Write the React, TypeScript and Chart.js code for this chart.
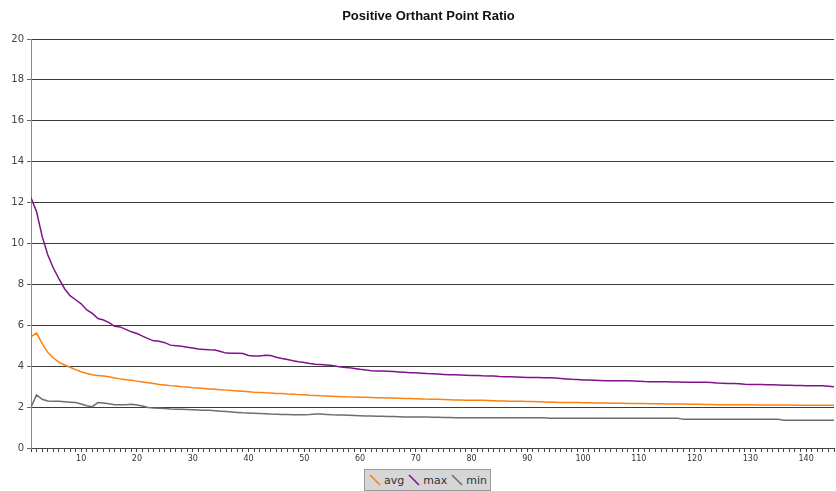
import React, { useEffect, useRef } from "react";
import { Chart, registerables } from "chart.js";

Chart.register(...registerables);

const TITLE = "Positive Orthant Point Ratio";
const SERIES_NAMES = ["avg", "max", "min"];
const SERIES_COLORS = ["#ff7f0e", "#80128c", "#6e6e6e"];
const Y_TICKS = [0, 2, 4, 6, 8, 10, 12, 14, 16, 18, 20];

// Iteration index 1..145
const iterations: number[] = Array.from({ length: 145 }, (_, i) => i + 1);

const avgValues: number[] = [
  5.45, 5.62, 5.1, 4.68, 4.4, 4.2, 4.06, 3.95, 3.83, 3.73,
  3.64, 3.58, 3.55, 3.52, 3.48, 3.42, 3.38, 3.34, 3.31, 3.27,
  3.23, 3.19, 3.15, 3.11, 3.08, 3.05, 3.03, 3.0, 2.98, 2.95,
  2.93, 2.91, 2.89, 2.87, 2.85, 2.83, 2.81, 2.79, 2.77, 2.75,
  2.73, 2.72, 2.7, 2.69, 2.67, 2.66, 2.64, 2.63, 2.61, 2.6,
  2.58, 2.57, 2.55, 2.54, 2.53, 2.52, 2.51, 2.5, 2.49, 2.48,
  2.48, 2.47, 2.46, 2.46, 2.45, 2.44, 2.43, 2.42, 2.42, 2.41,
  2.4, 2.39, 2.38, 2.38, 2.37, 2.36, 2.35, 2.35, 2.34, 2.34,
  2.33, 2.33, 2.32, 2.31, 2.3, 2.3, 2.29, 2.28, 2.28, 2.27,
  2.27, 2.26, 2.25, 2.24, 2.24, 2.23, 2.23, 2.22, 2.22, 2.21,
  2.21, 2.2, 2.2, 2.2, 2.19, 2.19, 2.19, 2.18, 2.18, 2.17,
  2.17, 2.16, 2.16, 2.16, 2.15, 2.15, 2.15, 2.15, 2.14, 2.14,
  2.14, 2.13, 2.13, 2.12, 2.12, 2.12, 2.11, 2.11, 2.11, 2.11,
  2.1, 2.1, 2.1, 2.1, 2.1, 2.1, 2.1, 2.09, 2.09, 2.09,
  2.09, 2.09, 2.09, 2.09, 2.09,
];

const maxValues: number[] = [
  12.24, 11.55, 10.35, 9.45, 8.8, 8.28, 7.8, 7.45, 7.25, 7.05,
  6.75, 6.58, 6.33, 6.26, 6.13, 5.95, 5.92, 5.8, 5.68, 5.6,
  5.47, 5.35, 5.24, 5.22, 5.15, 5.03, 5.0, 4.97, 4.93, 4.89,
  4.84, 4.82, 4.8, 4.79, 4.72, 4.64, 4.63, 4.63, 4.62, 4.52,
  4.5, 4.5, 4.53, 4.52, 4.44, 4.38, 4.33, 4.27, 4.22, 4.18,
  4.13, 4.1, 4.08, 4.06, 4.04, 3.99, 3.95, 3.93, 3.89, 3.85,
  3.82, 3.78, 3.77, 3.76, 3.75, 3.74, 3.72, 3.7, 3.68, 3.68,
  3.66, 3.64, 3.63, 3.62, 3.6, 3.58, 3.58, 3.57, 3.56, 3.55,
  3.55, 3.53, 3.52, 3.52, 3.5, 3.49, 3.48, 3.47, 3.46, 3.45,
  3.45, 3.45, 3.44, 3.43, 3.42, 3.4, 3.38, 3.36, 3.35, 3.33,
  3.32, 3.31, 3.3, 3.29, 3.29, 3.29, 3.29, 3.29, 3.28, 3.27,
  3.25, 3.24, 3.24, 3.24, 3.24, 3.23, 3.23, 3.22, 3.22, 3.22,
  3.21, 3.21, 3.2, 3.18, 3.17, 3.16, 3.15, 3.14, 3.12, 3.11,
  3.11, 3.1, 3.09, 3.09, 3.08, 3.07, 3.07, 3.06, 3.06, 3.05,
  3.05, 3.05, 3.04, 3.02, 3.0,
];

const minValues: number[] = [
  2.0, 2.6, 2.38, 2.3, 2.28, 2.28, 2.26, 2.24, 2.22, 2.15,
  2.07, 2.02, 2.22, 2.2, 2.16, 2.12, 2.11, 2.11, 2.14, 2.1,
  2.05, 1.98, 1.95, 1.94, 1.93, 1.91, 1.9, 1.89, 1.88, 1.87,
  1.86, 1.85, 1.84, 1.82, 1.8, 1.78, 1.76, 1.74, 1.72, 1.71,
  1.7, 1.69, 1.68, 1.66, 1.65, 1.64, 1.64, 1.63, 1.63, 1.63,
  1.64, 1.66, 1.66, 1.64, 1.62, 1.61, 1.61, 1.6, 1.59, 1.58,
  1.57, 1.56, 1.55, 1.55, 1.54, 1.54, 1.53, 1.52, 1.52, 1.51,
  1.51, 1.51, 1.5, 1.5, 1.49, 1.49, 1.48, 1.48, 1.48, 1.48,
  1.48, 1.48, 1.48, 1.48, 1.48, 1.48, 1.48, 1.48, 1.48, 1.48,
  1.48, 1.48, 1.48, 1.46, 1.45, 1.45, 1.45, 1.45, 1.45, 1.45,
  1.45, 1.45, 1.45, 1.45, 1.45, 1.45, 1.45, 1.45, 1.45, 1.45,
  1.45, 1.45, 1.45, 1.45, 1.45, 1.45, 1.45, 1.4, 1.4, 1.4,
  1.4, 1.4, 1.4, 1.4, 1.4, 1.4, 1.4, 1.4, 1.4, 1.4,
  1.4, 1.4, 1.4, 1.4, 1.4, 1.36, 1.36, 1.36, 1.36, 1.36,
  1.36, 1.36, 1.36, 1.36, 1.36,
];

const FONT = "'DejaVu Sans', Verdana, sans-serif";
const TITLE_FONT = "'Liberation Sans', Arial, sans-serif";

// Title drawn above the plot area
const titlePlugin = {
  id: "plotTitle",
  afterDraw(chart: Chart) {
    const { ctx, chartArea } = chart;
    ctx.save();
    ctx.font = `bold 13px ${TITLE_FONT}`;
    ctx.fillStyle = "#111";
    ctx.textAlign = "center";
    ctx.textBaseline = "alphabetic";
    ctx.fillText(TITLE, (chartArea.left + chartArea.right) / 2 - 4, 20);
    ctx.restore();
  },
};

export default function App() {
  const canvasRef = useRef<HTMLCanvasElement | null>(null);

  useEffect(() => {
    const canvas = canvasRef.current;
    if (!canvas) return;
    const sets = [avgValues, maxValues, minValues];
    const chart = new Chart(canvas, {
      type: "line",
      data: {
        datasets: sets.map((vals, k) => ({
          label: SERIES_NAMES[k],
          data: vals.map((v, i) => ({ x: iterations[i], y: v })),
          borderColor: SERIES_COLORS[k],
          borderWidth: 1.5,
          pointRadius: 0,
          tension: 0,
          fill: false,
        })),
      },
      options: {
        animation: false,
        responsive: false,
        devicePixelRatio: 1,
        layout: { padding: { top: 39, right: 0, left: 0, bottom: 0 } },
        plugins: {
          legend: { display: false },
          title: { display: false },
          tooltip: { enabled: false },
        },
        scales: {
          x: {
            type: "linear",
            min: 1,
            max: 145,
            afterFit(scale: any) {
              scale.height = 43;
            },
            border: { display: true, color: "#444", width: 1 },
            grid: {
              drawOnChartArea: false,
              drawTicks: true,
              tickLength: 4,
              tickColor: "#444",
            },
            ticks: {
              stepSize: 1,
              autoSkip: false,
              maxRotation: 0,
              minRotation: 0,
              padding: 2,
              color: "#333",
              font: { family: FONT, size: 8 },
              callback: (v: any) => (Number(v) % 10 === 0 ? String(v) : ""),
            },
          },
          y: {
            min: 0,
            max: 20,
            afterFit(scale: any) {
              scale.width = 31;
            },
            afterBuildTicks(scale: any) {
              scale.ticks = Y_TICKS.map((v) => ({ value: v }));
            },
            border: { display: true, color: "#8a8a8a", width: 1 },
            grid: {
              color: "#3c3c3c",
              lineWidth: 1,
              drawTicks: true,
              tickLength: 4,
              tickColor: "#666",
            },
            ticks: {
              padding: 3,
              color: "#444",
              font: { family: FONT, size: 10 },
            },
          },
        },
      },
      plugins: [titlePlugin],
    });
    return () => chart.destroy();
  }, []);

  return (
    <div
      style={{
        position: "fixed",
        left: 0,
        top: 0,
        width: 836,
        height: 491,
        background: "#fff",
        overflow: "hidden",
      }}
    >
      <canvas ref={canvasRef} width={836} height={491} style={{ display: "block" }} />
      <div
        style={{
          position: "absolute",
          left: 364,
          top: 469,
          width: 127,
          height: 22,
          boxSizing: "border-box",
          background: "#d6d6d6",
          border: "1px solid #9a9a9a",
          display: "flex",
          alignItems: "center",
          paddingLeft: 4,
          fontFamily: FONT,
          fontSize: 11,
          color: "#333",
        }}
      >
        {SERIES_NAMES.map((name, k) => (
          <span key={name} style={{ display: "flex", alignItems: "center", marginRight: 4 }}>
            <svg width="12" height="12" style={{ marginRight: 3 }}>
              <line x1="1" y1="1" x2="11" y2="11" stroke={SERIES_COLORS[k]} strokeWidth="1.6" />
            </svg>
            <span>{name}</span>
          </span>
        ))}
      </div>
    </div>
  );
}
